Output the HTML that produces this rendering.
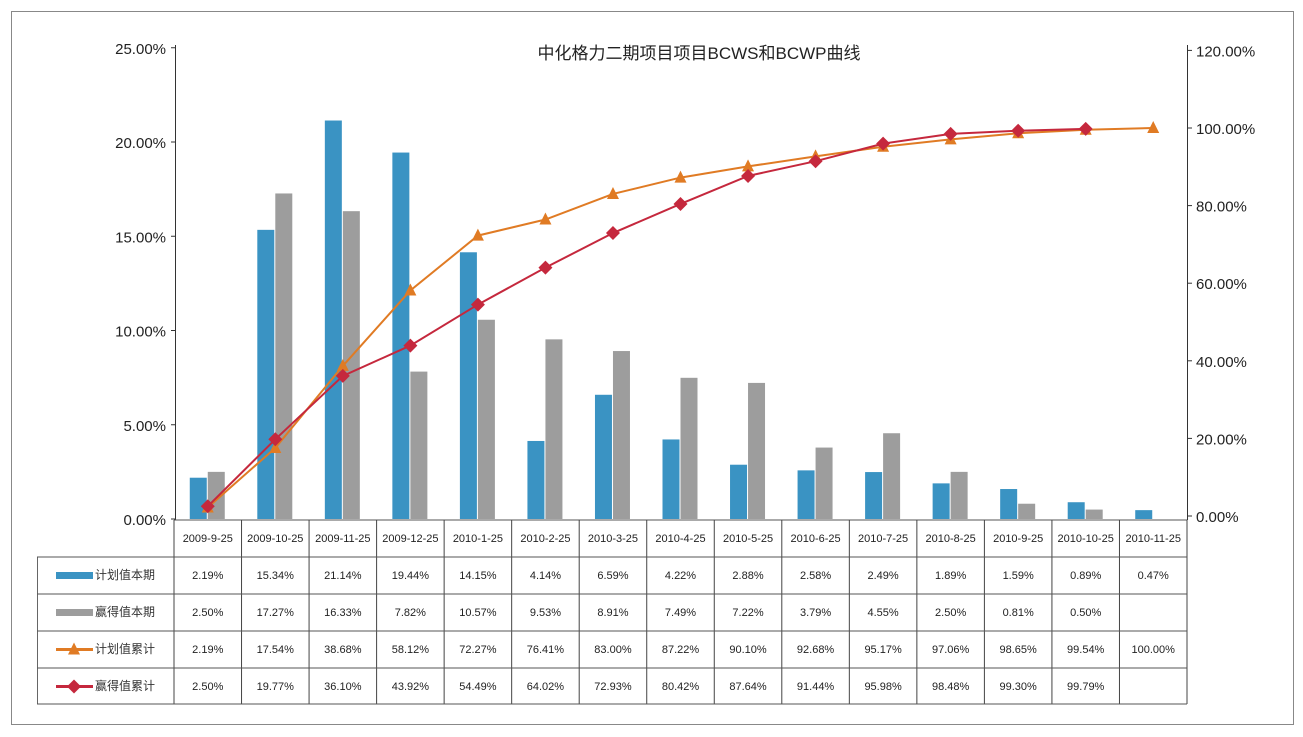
<!DOCTYPE html>
<html><head><meta charset="utf-8"><style>
body{margin:0;background:#fff;}
svg{display:block;font-family:"Liberation Sans","Noto Sans CJK SC",sans-serif;}
</style></head><body>
<svg id="s" width="1303" height="737" viewBox="0 0 1303 737" xmlns="http://www.w3.org/2000/svg">
<rect x="11.5" y="11.5" width="1282" height="713" fill="#fff" stroke="#888" stroke-width="1"/>
<text x="699" y="59" font-size="17" text-anchor="middle" fill="#222">中化格力二期项目项目BCWS和BCWP曲线</text>
</svg>
<script>
const s=document.getElementById('s');const NS='http://www.w3.org/2000/svg';
function el(t,a,txt){const e=document.createElementNS(NS,t);for(const k in a)e.setAttribute(k,a[k]);if(txt!==undefined)e.textContent=txt;s.appendChild(e);return e;}
const cats=['2009-9-25','2009-10-25','2009-11-25','2009-12-25','2010-1-25','2010-2-25','2010-3-25','2010-4-25','2010-5-25','2010-6-25','2010-7-25','2010-8-25','2010-9-25','2010-10-25','2010-11-25'];
const a=[2.19,15.34,21.14,19.44,14.15,4.14,6.59,4.22,2.88,2.58,2.49,1.89,1.59,0.89,0.47];
const b=[2.50,17.27,16.33,7.82,10.57,9.53,8.91,7.49,7.22,3.79,4.55,2.50,0.81,0.50,null];
const c=[2.19,17.54,38.68,58.12,72.27,76.41,83.00,87.22,90.10,92.68,95.17,97.06,98.65,99.54,100.00];
const d=[2.50,19.77,36.10,43.92,54.49,64.02,72.93,80.42,87.64,91.44,95.98,98.48,99.30,99.79,null];
const X0=174,W=1013/15,Y0=519,L=18.85,R=3.88,RY0=516;
const cx=i=>X0+W*(i+0.5);
el('line',{x1:175.5,y1:45,x2:175.5,y2:520,stroke:'#333'});
el('line',{x1:1187.5,y1:45,x2:1187.5,y2:520,stroke:'#333'});
for(let i=0;i<=5;i++){const y=Y0-i*5*L;el('line',{x1:171,y1:y,x2:175,y2:y,stroke:'#333'});el('text',{x:166,y:y+6,'font-size':15,'text-anchor':'end',fill:'#222'},(i*5).toFixed(2)+'%');}
for(let i=0;i<=6;i++){const y=RY0-i*20*R;el('line',{x1:1187,y1:y,x2:1192,y2:y,stroke:'#333'});el('text',{x:1196,y:y+6,'font-size':15,fill:'#222'},(i*20).toFixed(2)+'%');}
a.forEach((v,i)=>{const h=v*L;el('rect',{x:cx(i)-18,y:Y0-h,width:17,height:h,fill:'#3a93c3'});});
b.forEach((v,i)=>{if(v==null)return;const h=v*L;el('rect',{x:cx(i),y:Y0-h,width:17,height:h,fill:'#9d9d9d'});});
function line(arr,col){const p=[];arr.forEach((v,i)=>{if(v!=null)p.push([cx(i),RY0-v*R]);});el('polyline',{points:p.map(q=>q.join(',')).join(' '),fill:'none',stroke:col,'stroke-width':2});return p;}
line(c,'#e07b24').forEach(([x,y])=>el('polygon',{points:`${x},${y-7} ${x-6},${y+5} ${x+6},${y+5}`,fill:'#e07b24'}));
line(d,'#c5283d').forEach(([x,y])=>el('polygon',{points:`${x},${y-7} ${x+7},${y} ${x},${y+7} ${x-7},${y}`,fill:'#c5283d'}));
const rows=[557,594,631,668,704];
el('line',{x1:174,y1:520,x2:1187,y2:520,stroke:'#555'});
for(let i=0;i<=15;i++){const x=X0+W*i;el('line',{x1:x,y1:520,x2:x,y2:704,stroke:'#444'});}
el('line',{x1:37.5,y1:557,x2:37.5,y2:704,stroke:'#666'});
rows.forEach(y=>el('line',{x1:37,y1:y,x2:1187,y2:y,stroke:'#555'}));
cats.forEach((t,i)=>el('text',{x:cx(i),y:542,'font-size':11,'text-anchor':'middle',fill:'#222'},t));
const data=[a,b,c,d],labels=['计划值本期','赢得值本期','计划值累计','赢得值累计'];
data.forEach((arr,r)=>{const y=rows[r]+22;arr.forEach((v,i)=>{if(v!=null)el('text',{x:cx(i),y:y,'font-size':11,'text-anchor':'middle',fill:'#222'},v.toFixed(2)+'%');});
 el('text',{x:95,y:y,'font-size':12,fill:'#333'},labels[r]);
 const my=rows[r]+18.5;
 if(r<2)el('rect',{x:56,y:my-3.5,width:37,height:7,fill:r?'#9d9d9d':'#3a93c3'});
 else{const col=r==2?'#e07b24':'#c5283d';el('line',{x1:56,y1:my,x2:93,y2:my,stroke:col,'stroke-width':3});
  if(r==2)el('polygon',{points:`74,${my-7} 68,${my+5} 80,${my+5}`,fill:col});else el('polygon',{points:`74,${my-7} 81,${my} 74,${my+7} 67,${my}`,fill:col});}
});
</script>
</body></html>
